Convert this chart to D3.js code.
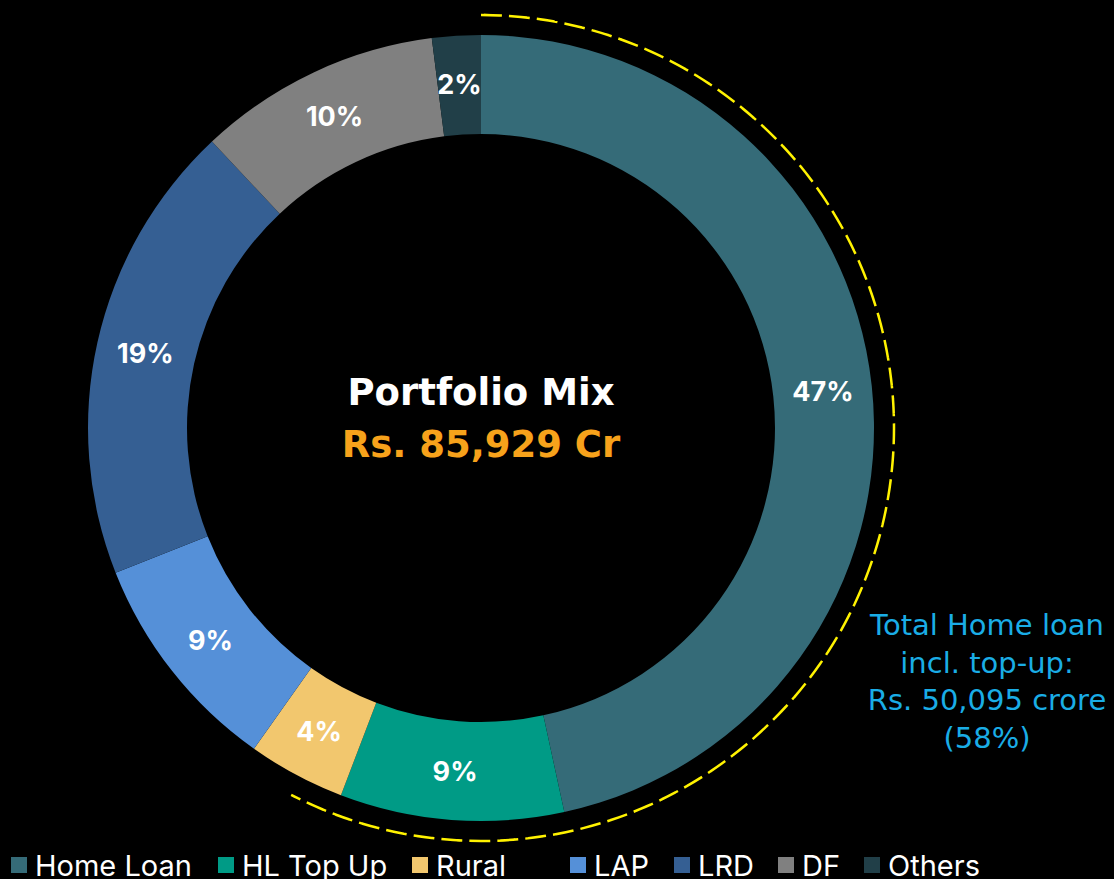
<!DOCTYPE html>
<html><head><meta charset="utf-8">
<script src="https://cdn.jsdelivr.net/npm/d3@7"></script>
<style>html,body{margin:0;padding:0;background:#000;}svg{display:block;}</style>
</head><body>
<script>
const categories = ["Home Loan","HL Top Up","Rural","LAP","LRD","DF","Others"];
const shares = [46.6, 9.2, 4.0, 9.2, 19.0, 10.0, 2.0];
const colors = ["#356B78","#009B86","#F2C76E","#5590D8","#355F93","#808080","#213F48"];
const titleText = "Portfolio Mix";
const totalText = "Rs. 85,929 Cr";
const noteLines = ["Total Home loan","incl. top-up:","Rs. 50,095 crore","(58%)"];
const highlightShare = 57.6; // extent of the dashed highlight arc, % of circle

const W = 1114, H = 879;
const cx = 481, cy = 428, rOuter = 393, rInner = 294;
const svg = d3.select("body").append("svg").attr("width", W).attr("height", H);
const g = svg.append("g").attr("transform", `translate(${cx},${cy})`);

const data = categories.map((c,i)=>({name:c, value:shares[i], color:colors[i]}));
const pie = d3.pie().sort(null).value(d=>d.value);
const arcs = pie(data);
const arc = d3.arc().innerRadius(rInner).outerRadius(rOuter);
const labelArc = d3.arc().innerRadius(344).outerRadius(344);

g.selectAll("path.slice").data(arcs).join("path")
  .attr("class","slice").attr("d", arc).attr("fill", d=>d.data.color);

g.selectAll("text.pct").data(arcs).join("text")
  .attr("class","pct")
  .attr("transform", d=>`translate(${labelArc.centroid(d)})`)
  .attr("text-anchor","middle").attr("dy","0.36em")
  .attr("fill","#fff").attr("font-family","Inter, 'DejaVu Sans', sans-serif")
  .attr("font-weight",700).attr("font-size",27)
  .text(d=>Math.round(d.data.value)+"%");

// dashed highlight arc
const angleScale = d3.scaleLinear().domain([0,100]).range([0, 2*Math.PI]);
const dashArc = d3.arc().innerRadius(413).outerRadius(413)
  .startAngle(angleScale(0)).endAngle(angleScale(highlightShare));
g.append("path").attr("d", dashArc())
  .attr("fill","none").attr("stroke","#FFF200").attr("stroke-width",2.5)
  .attr("stroke-dasharray","18,10");

// center text
g.append("text").attr("x",0).attr("y",-23).attr("text-anchor","middle")
  .attr("fill","#fff").attr("font-family","'DejaVu Sans', sans-serif").attr("font-weight",700)
  .attr("font-size",37).text(titleText);
g.append("text").attr("x",0).attr("y",29).attr("text-anchor","middle")
  .attr("fill","#F7A21B").attr("font-family","'DejaVu Sans', sans-serif").attr("font-weight",700)
  .attr("font-size",37).text(totalText);

// annotation
svg.append("g").selectAll("text").data(noteLines).join("text")
  .attr("x",987).attr("y",(d,i)=>635+i*37.5).attr("text-anchor","middle")
  .attr("fill","#1AADE6").attr("font-family","'DejaVu Sans', sans-serif").attr("font-size",29)
  .text(d=>d);

// legend
const legendX = [11, 218, 412, 570, 674, 778, 864];
const lg = svg.append("g");
const items = lg.selectAll("g").data(data).join("g")
  .attr("transform",(d,i)=>`translate(${legendX[i]},0)`);
items.append("rect").attr("x",0).attr("y",857).attr("width",16).attr("height",16).attr("fill",d=>d.color);
items.append("text").attr("x",24).attr("y",876).attr("fill","#fff")
  .attr("font-family","Inter, sans-serif").attr("font-size",29).text(d=>d.name);
</script>
</body></html>
